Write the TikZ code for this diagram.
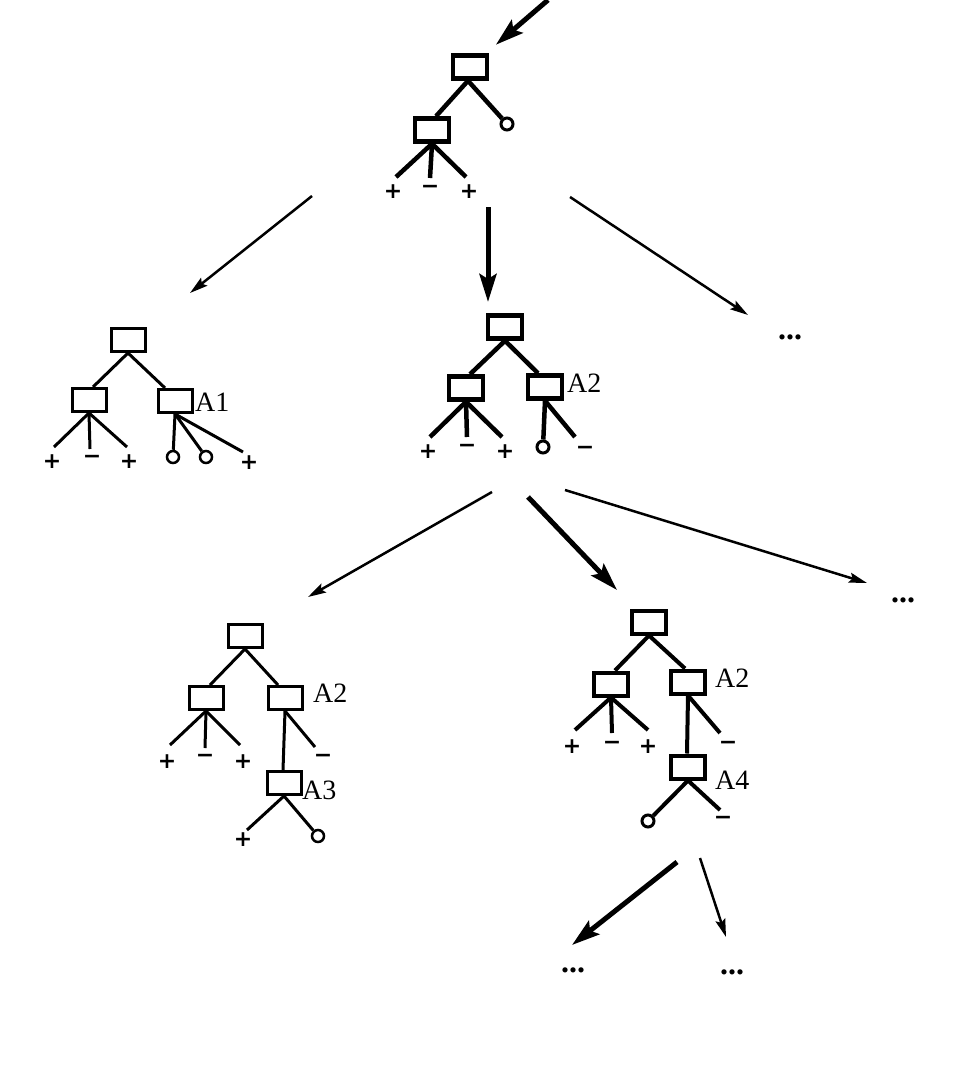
\documentclass[tikz,border=0pt]{standalone}
\usepackage{fontspec}
\setmainfont{Liberation Serif}
\newfontfamily\symfont{DejaVu Sans}
\usetikzlibrary{arrows.meta}
\begin{document}
\begin{tikzpicture}[x=1pt,y=-1pt,
  boxA/.style={draw, line width=4.5pt, minimum width=34pt, minimum height=23pt, inner sep=0pt},
  boxB/.style={draw, line width=3pt, minimum width=34pt, minimum height=23pt, inner sep=0pt},
  boxC/.style={draw, line width=4pt, minimum width=34pt, minimum height=23pt, inner sep=0pt},
  edgeA/.style={line width=4.5pt},
  edgeB/.style={line width=3pt},
  edgeC/.style={line width=4pt},
  circA/.style={circle, draw, line width=3pt, minimum size=12pt, inner sep=0pt},
  circB/.style={circle, draw, line width=2.5pt, minimum size=12pt, inner sep=0pt},
  sym/.style={font=\symfont\fontsize{22}{22}\selectfont\bfseries, inner sep=0pt},
  lab/.style={font=\fontsize{28}{28}\selectfont, inner sep=0pt, anchor=west},
  dots/.style={font=\fontsize{32}{32}\selectfont\bfseries, inner sep=0pt},
  thickarrow/.style={line width=5pt, -{Stealth[length=28pt,width=17pt,inset=5pt]}},
  thinarrow/.style={line width=2.5pt, -{Stealth[length=18pt,width=10pt,inset=3pt]}}
]
\useasboundingbox (0,0) rectangle (953,1070);

% ---------- top tree ----------
\node[boxA] (T0) at (470,67) {};
\node[boxA] (T1) at (432,130) {};
\node[circA] (tc) at (507,124) {};
\node[sym] (t1) at (393,192) {+};
\node[sym] (t2) at (430,189) {−};
\node[sym] (t3) at (469,192) {+};
\draw[edgeA] ([xshift=-2pt]T0.south) -- ([xshift=4pt]T1.north);
\draw[edgeA] ([xshift=-2pt]T0.south) -- (tc);
\draw[edgeA] (T1.south) -- ([xshift=3pt,yshift=15pt]t1.center);
\draw[edgeA] (T1.south) -- ([yshift=11pt]t2.center);
\draw[edgeA] (T1.south) -- ([xshift=-3pt,yshift=15pt]t3.center);

\coordinate (in) at (548,0);
\draw[thickarrow, shorten >=13pt] (in) -- (T0);

% arrows from top tree
\coordinate (a1s) at (312,196); \coordinate (a1e) at (190,293);
\coordinate (a2s) at (488,207); \coordinate (a2e) at (488,302);
\coordinate (a3s) at (570,197); \coordinate (a3e) at (748,315);
\draw[thinarrow] (a1s) -- (a1e);
\draw[thickarrow] (a2s) -- (a2e);
\draw[thinarrow] (a3s) -- (a3e);
\node[dots] (r1) at (790,337) {...};

% ---------- left tree ----------
\node[boxB] (L0) at (128,340) {};
\node[boxB] (L1) at (89,400) {};
\node[boxB] (L2) at (175,401) {};
\node[lab] (lA1) at (195,402) {A1};
\node[sym] (l1) at (52,462) {+};
\node[sym] (l2) at (92,459) {−};
\node[sym] (l3) at (129,462) {+};
\node[circB] (lc1) at (173,457) {};
\node[circB] (lc2) at (206,457) {};
\node[sym] (l4) at (249,463) {+};
\draw[edgeB] (L0.south) -- ([xshift=4pt]L1.north);
\draw[edgeB] (L0.south) -- ([xshift=-10pt]L2.north);
\draw[edgeB] (L1.south) -- ([xshift=2pt,yshift=15pt]l1.center);
\draw[edgeB] (L1.south) -- ([xshift=-2pt,yshift=10pt]l2.center);
\draw[edgeB] (L1.south) -- ([xshift=-2pt,yshift=15pt]l3.center);
\draw[edgeB] (L2.south) -- (lc1);
\draw[edgeB] (L2.south) -- (lc2);
\draw[edgeB] (L2.south) -- ([xshift=-6pt,yshift=11pt]l4.center);

% ---------- middle tree ----------
\node[boxA] (M0) at (505,327) {};
\node[boxA] (M1) at (466,388) {};
\node[boxA] (M2) at (545,387) {};
\node[lab] (mA2) at (567,383) {A2};
\node[sym] (m1) at (428,452) {+};
\node[sym] (m2) at (467,448) {−};
\node[sym] (m3) at (505,452) {+};
\node[circA] (mc) at (543,447) {};
\node[sym] (m4) at (585,450) {−};
\draw[edgeA] (M0.south) -- ([xshift=4pt]M1.north);
\draw[edgeA] (M0.south) -- ([xshift=-7pt]M2.north);
\draw[edgeA] (M1.south) -- ([xshift=2pt,yshift=15pt]m1.center);
\draw[edgeA] (M1.south) -- ([yshift=11pt]m2.center);
\draw[edgeA] (M1.south) -- ([xshift=-3pt,yshift=15pt]m3.center);
\draw[edgeA] (M2.south) -- (mc);
\draw[edgeA] (M2.south) -- ([xshift=-10pt,yshift=13pt]m4.center);

% arrows from middle tree
\coordinate (b1s) at (492,492); \coordinate (b1e) at (308,597);
\coordinate (b2s) at (528,497); \coordinate (b2e) at (617,590);
\coordinate (b3s) at (565,490); \coordinate (b3e) at (867,583);
\draw[thinarrow] (b1s) -- (b1e);
\draw[thickarrow] (b2s) -- (b2e);
\draw[thinarrow] (b3s) -- (b3e);
\node[dots] (r2) at (903,600) {...};

% ---------- bottom-left tree ----------
\node[boxB] (B0) at (245,636) {};
\node[boxB] (B1) at (206,698) {};
\node[boxB] (B2) at (285,698) {};
\node[lab] (bA2) at (313,693) {A2};
\node[boxB] (B3) at (284,783) {};
\node[lab] (bA3) at (302,790) {A3};
\node[sym] (b1) at (167,762) {+};
\node[sym] (b2) at (205,758) {−};
\node[sym] (b3) at (243,762) {+};
\node[sym] (b4) at (323,758) {−};
\node[sym] (b5) at (243,840) {+};
\node[circB] (bc) at (318,836) {};
\draw[edgeB] (B0.south) -- ([xshift=4pt]B1.north);
\draw[edgeB] (B0.south) -- ([xshift=-7pt]B2.north);
\draw[edgeB] (B1.south) -- ([xshift=3pt,yshift=17pt]b1.center);
\draw[edgeB] (B1.south) -- ([yshift=10pt]b2.center);
\draw[edgeB] (B1.south) -- ([xshift=-3pt,yshift=17pt]b3.center);
\draw[edgeB] (B2.south) -- ([xshift=-1pt]B3.north);
\draw[edgeB] (B2.south) -- ([xshift=-8pt,yshift=11pt]b4.center);
\draw[edgeB] (B3.south) -- ([xshift=4pt,yshift=10pt]b5.center);
\draw[edgeB] (B3.south) -- (bc);

% ---------- bottom-right tree ----------
\node[boxC] (C0) at (649,622) {};
\node[boxC] (C1) at (611,684) {};
\node[boxC] (C2) at (688,682) {};
\node[lab] (cA2) at (715,678) {A2};
\node[boxC] (C3) at (688,767) {};
\node[lab] (cA4) at (715,780) {A4};
\node[sym] (c1) at (572,747) {+};
\node[sym] (c2) at (612,745) {−};
\node[sym] (c3) at (648,747) {+};
\node[sym] (c4) at (728,745) {−};
\node[circA] (cc) at (648,821) {};
\node[sym] (c5) at (723,820) {−};
\draw[edgeC] (C0.south) -- ([xshift=4pt]C1.north);
\draw[edgeC] (C0.south) -- ([xshift=-3pt]C2.north);
\draw[edgeC] (C1.south) -- ([xshift=3pt,yshift=17pt]c1.center);
\draw[edgeC] (C1.south) -- ([yshift=12pt]c2.center);
\draw[edgeC] (C1.south) -- ([yshift=17pt]c3.center);
\draw[edgeC] (C2.south) -- ([xshift=-1pt]C3.north);
\draw[edgeC] (C2.south) -- ([xshift=-8pt,yshift=12pt]c4.center);
\draw[edgeC] (C3.south) -- (cc);
\draw[edgeC] (C3.south) -- ([xshift=-3pt,yshift=10pt]c5.center);

% arrows from bottom-right tree
\coordinate (d1s) at (677,862); \coordinate (d1e) at (572,945);
\coordinate (d2s) at (700,858); \coordinate (d2e) at (726,937);
\draw[thickarrow] (d1s) -- (d1e);
\draw[thinarrow] (d2s) -- (d2e);
\node[dots] (r3) at (573,970) {...};
\node[dots] (r4) at (732,972) {...};
\end{tikzpicture}
\end{document}
